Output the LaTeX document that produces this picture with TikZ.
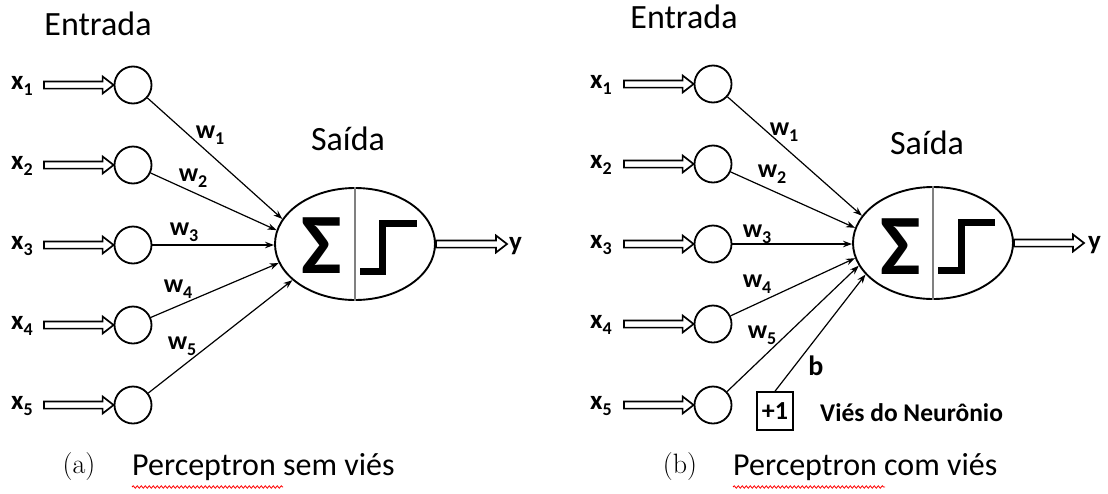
\documentclass[tikz,border=0pt]{standalone}
\usepackage{fontspec}
\setmainfont{Carlito}
\newfontfamily\lmr{Latin Modern Roman}
\usetikzlibrary{arrows.meta,shapes.geometric,decorations.pathmorphing,calc}

\newcommand\fsz[1]{\fontsize{#1}{#1}\selectfont}
\newcommand\withsub[2]{#1\raisebox{-6pt}{\fsz{18}#2}}

\begin{document}
\begin{tikzpicture}[x=1pt,y=-1pt,
  inputnode/.style={circle,draw,line width=1.8pt,minimum size=37pt,inner sep=0},
  sumnode/.style={ellipse,draw,line width=1.9pt,minimum width=160pt,minimum height=112pt,inner sep=0},
  % hollow horizontal arrow: double shaft with an outlined triangular head
  feed/.style={line width=1.7pt,line join=miter,
    to path={let \p1=(\tikztostart), \p2=(\tikztotarget) in
      (\x1,\y1+3.6pt) -- (\x2-11pt,\y1+3.6pt) -- (\x2-11pt,\y1+8.5pt) -- (\x2,\y1)
      -- (\x2-11pt,\y1-8.5pt) -- (\x2-11pt,\y1-3.6pt) -- (\x1,\y1-3.6pt) -- cycle}},
  wire/.style={line width=1.2pt,-{Stealth[length=9pt,width=6.5pt]}},
  divider/.style={draw=gray,line width=1.2pt},
  stepfn/.style={line width=7pt,line join=miter},
  xlbl/.style={font=\fsz{27}\bfseries,inner sep=0,anchor=base west},
  wlbl/.style={font=\fsz{26}\bfseries,inner sep=0},
  title/.style={font=\fsz{34},inner sep=0},
  caption/.style={font=\fsz{32},inner sep=0,anchor=west},
  tag/.style={font=\lmr\fsz{28},inner sep=0},
  spell/.style={draw=red,line width=0.8pt,decorate,decoration={snake,amplitude=1.2pt,segment length=4pt}}
]
\useasboundingbox (0,0) rectangle (1108,493);

% ---------- (a) perceptron without bias ----------
\node[title] (entA) at (98,24) {Entrada};
\foreach \i/\y in {1/85,2/165,3/245,4/325,5/405} {
  \node[inputnode] (a\i) at (133,\y) {};
  \coordinate (as\i) at (44,\y);
  \draw[feed] (as\i) to (a\i.west);
  \node[xlbl] (ax\i) at (11,\y+4) {\withsub{x}{\i}};
}
\node[sumnode] (sumA) at (355,244) {};
\draw[divider] (sumA.north) -- (sumA.south);
\node[font=\fsz{86}\bfseries,inner sep=0] (sigA) at (322,246) {Σ};
\draw[stepfn] (360,271) -- (382,271) -- (382,223) -- (417,223);
\node[title] (outA) at (348,139) {Saída};
\coordinate (yA) at (507,244);
\draw[feed] (sumA.east) to (yA);
\node[xlbl,anchor=west] (ylA) at (509,246) {y};

\draw[wire] (a1) -- (sumA.161);
\draw[wire] (a2) -- (sumA.170);
\draw[wire] (a3) -- (a3 -| sumA.west);
\draw[wire] (a4) -- (sumA.194);
\draw[wire] (a5) -- (sumA.210);

\node[wlbl] (wa1) at (210,135) {\withsub{w}{1}};
\node[wlbl] (wa2) at (193,178) {\withsub{w}{2}};
\node[wlbl] (wa3) at (184,232) {\withsub{w}{3}};
\node[wlbl] (wa4) at (178,289) {\withsub{w}{4}};
\node[wlbl] (wa5) at (182,346) {\withsub{w}{5}};

\node[tag] (tagA) at (79,467) {(a)};
\node[caption] (capA) at (132,467) {Perceptron sem viés};
\draw[spell] (132,487) -- (283,487);

% ---------- (b) perceptron with bias ----------
\node[title] (entB) at (684,17) {Entrada};
\foreach \i/\y in {1/84,2/164,3/244,4/324,5/405} {
  \node[inputnode] (b\i) at (713,\y) {};
  \coordinate (bs\i) at (624,\y);
  \draw[feed] (bs\i) to (b\i.west);
  \node[xlbl] (bx\i) at (590,\y+4) {\withsub{x}{\i}};
}
\node[sumnode] (sumB) at (933,243) {};
\draw[divider] (sumB.north) -- (sumB.south);
\node[font=\fsz{86}\bfseries,inner sep=0] (sigB) at (901,247) {Σ};
\draw[stepfn] (938,270) -- (961,270) -- (961,222) -- (995,222);
\node[title] (outB) at (927,143) {Saída};
\coordinate (yB) at (1084,243);
\draw[feed] (sumB.east) to (yB);
\node[xlbl,anchor=west] (ylB) at (1088,245) {y};

\node[draw,line width=1.6pt,minimum width=36pt,minimum height=38pt,inner sep=0,
      font=\fsz{26}\bfseries] (bias) at (775,411) {+1};
\node[font=\fsz{25.5}\bfseries,inner sep=0,anchor=west] (biasname) at (820,413) {Viés do Neurônio};

\draw[wire] (b1) -- (sumB.159);
\draw[wire] (b2) -- (sumB.169.5);
\draw[wire] (b3) -- (b3 -| sumB.west);
\draw[wire] (b4) -- (sumB.191);
\draw[wire] (b5) -- (sumB.197.5);
\draw[wire] (bias.north) -- (sumB.205);

\node[wlbl] (wb1) at (784,132) {\withsub{w}{1}};
\node[wlbl] (wb2) at (772,174) {\withsub{w}{2}};
\node[wlbl] (wb3) at (757,234) {\withsub{w}{3}};
\node[wlbl] (wb4) at (757,284) {\withsub{w}{4}};
\node[wlbl] (wb5) at (762,335) {\withsub{w}{5}};
\node[font=\fsz{28}\bfseries,inner sep=0] (blbl) at (816,366) {b};

\node[tag] (tagB) at (680,467) {(b)};
\node[caption] (capB) at (733,467) {Perceptron com viés};
\draw[spell] (733,487) -- (885,487);
\end{tikzpicture}
\end{document}
